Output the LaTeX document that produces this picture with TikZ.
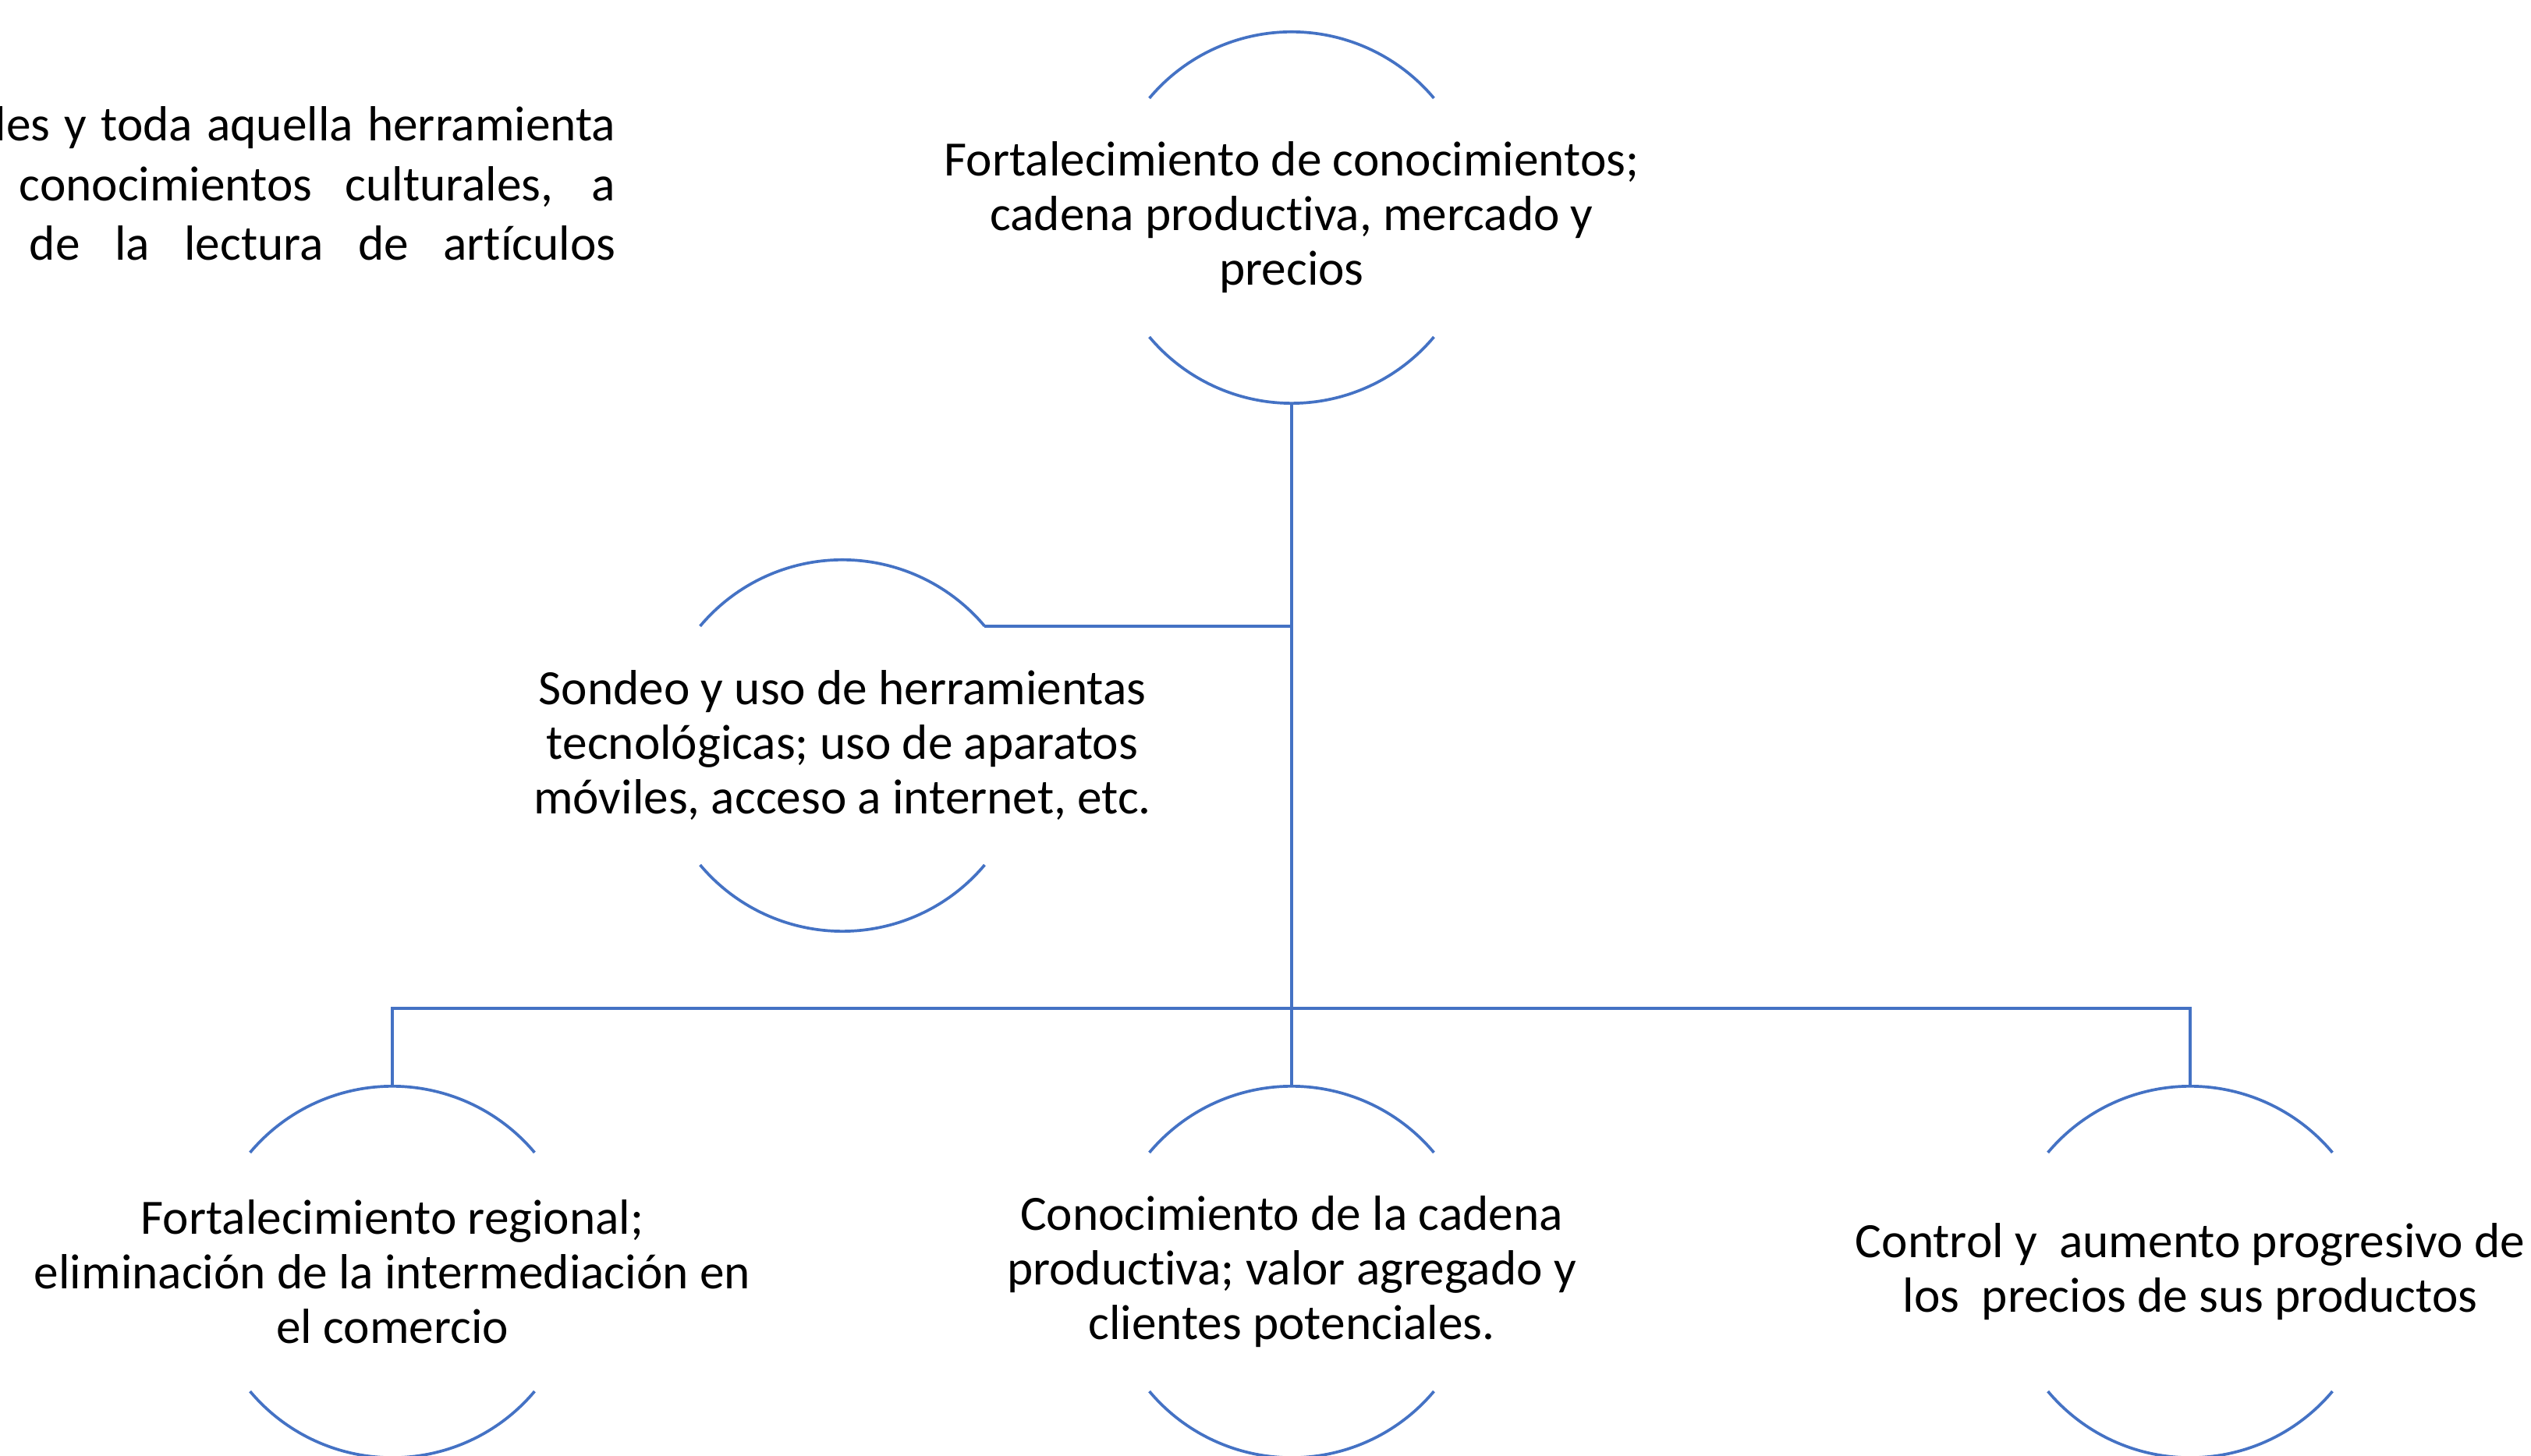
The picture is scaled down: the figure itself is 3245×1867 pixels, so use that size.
\documentclass[tikz,border=0pt]{standalone}
\usepackage{fontspec}
\setmainfont{Carlito}[Ligatures={NoCommon,NoRequired,NoContextual}]
\usepackage{xcolor}
\usetikzlibrary{calc}
\definecolor{ringblue}{HTML}{4472C4}
\newcommand{\ringrad}{2.38cm}
\newcommand{\ringdiam}{4.76cm}
\newcommand{\txtfont}{\fontsize{18}{19.9}\selectfont}
\newcommand{\parfont}{\fontsize{18}{21.8}\selectfont}
\tikzset{
  ring/.style={circle, minimum size=\ringdiam, inner sep=0pt, outer sep=0pt},
  ringtxt/.style={align=center, font=\txtfont, inner sep=0pt},
  partxt/.style={anchor=base east, font=\parfont, inner sep=0pt},
  lnk/.style={draw=ringblue, line width=1.05pt}
}

\begin{document}
\begin{tikzpicture}[x=0.01cm,y=0.01cm]
    \useasboundingbox (0,0) rectangle (3245,1867);
    \clip (0,0) rectangle (3245,1867);

    \node[partxt] (para) at (790,1686)
      {\makebox[7.95cm][s]{les y toda aquella herramienta}};
    \node[partxt] (parb) at (790,1609)
      {\makebox[7.64cm][s]{conocimientos culturales, a}};
    \node[partxt] (parc) at (790,1533)
      {\makebox[7.51cm][s]{de la lectura de artículos}};

    \node[ring] (fort) at (1656,1588) {};
    \node[ring] (sond) at (1080,911) {};
    \node[ring] (regl) at (503,236) {};
    \node[ring] (cade) at (1656,236) {};
    \node[ring] (prec) at (2808,236) {};

    \node[ringtxt] (forttxt) at (fort)
      {Fortalecimiento de conocimientos;\\cadena productiva, mercado y\\precios};
    \node[ringtxt] (sondtxt) at (sond)
      {Sondeo y uso de herramientas\\tecnológicas; uso de aparatos\\móviles, acceso a internet, etc.};
    \node[ringtxt] (regltxt) at (regl)
      {Fortalecimiento regional;\\eliminación de la intermediación en\\el comercio};
    \node[ringtxt] (cadetxt) at (cade)
      {Conocimiento de la cadena\\productiva; valor agregado y\\clientes potenciales.};
    \node[ringtxt] (prectxt) at (prec)
      {Control y~ aumento progresivo de\\los~ precios de sus productos};

    \foreach \n in {fort,sond,regl,cade,prec} {
      \draw[lnk] (\n.40) arc[start angle=40, end angle=140, radius=\ringrad];
      \draw[lnk] (\n.220) arc[start angle=220, end angle=320, radius=\ringrad];
    }

    \coordinate (bus) at ($(fort.south |- 0,574)$);
    \draw[lnk] (fort.south) -- (cade.north);
    \draw[lnk] (sond.40) -- (sond.40 -| fort.south);
    \draw[lnk] (regl.north) |- (bus) -| (prec.north);
\end{tikzpicture}
\end{document}
